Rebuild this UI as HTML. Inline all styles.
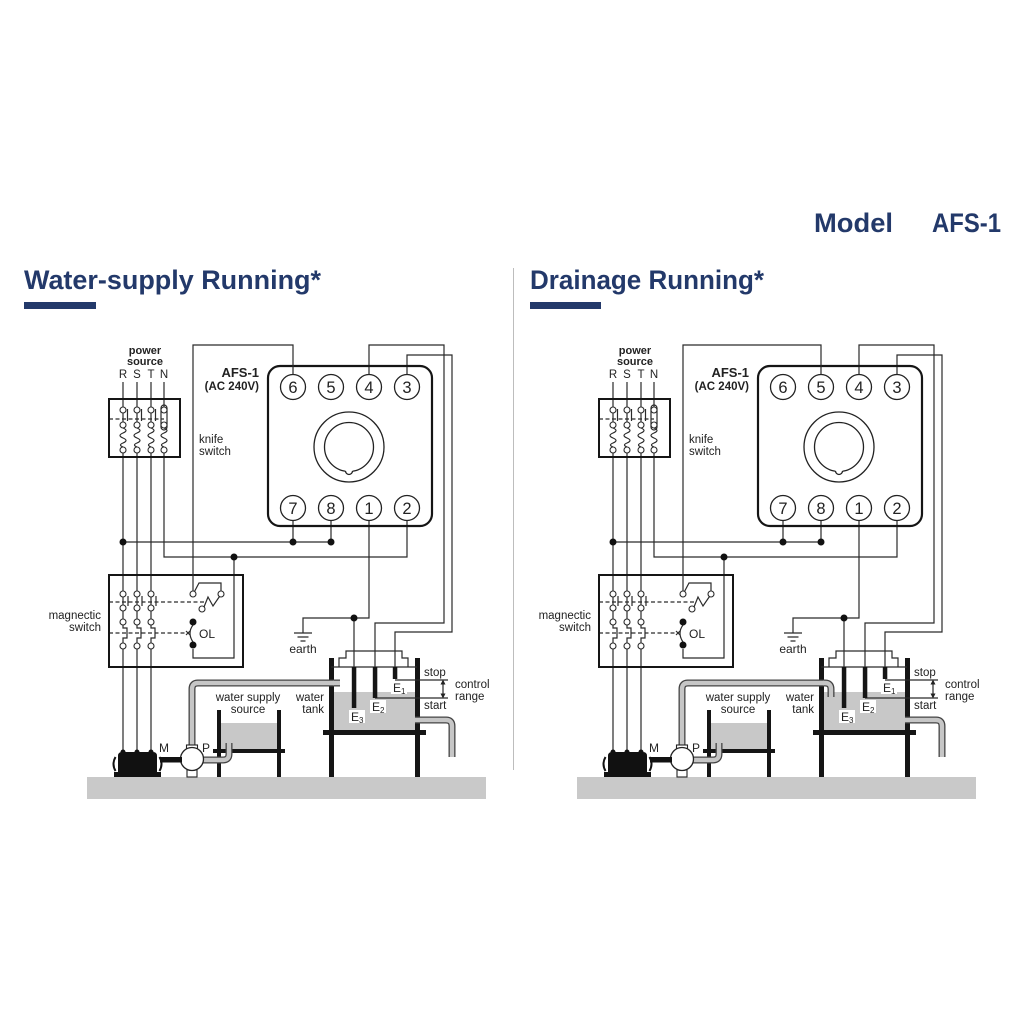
<!DOCTYPE html>
<html><head><meta charset="utf-8"><style>
html,body{margin:0;padding:0;background:#fff;}
svg{display:block;}
text{font-family:"Liberation Sans",Arial,sans-serif;fill:#222;}
.h{font-weight:bold;fill:#23396a;}
</style></head><body>
<svg width="1024" height="1024" viewBox="0 0 1024 1024" xmlns="http://www.w3.org/2000/svg">
<defs>
<g id="base">
 <rect x="87" y="777" width="399" height="22" fill="#c9c9c9"/>
 <rect x="334" y="692" width="81" height="38" fill="#c8c8c8"/>
 <rect x="221" y="723" width="56" height="26" fill="#c8c8c8"/>
 <g fill="#151515">
  <rect x="329" y="658" width="5" height="119"/>
  <rect x="415" y="658" width="5" height="119"/>
  <rect x="323" y="730" width="103" height="5"/>
  <rect x="217" y="710" width="4" height="67"/>
  <rect x="277" y="710" width="4" height="67"/>
  <rect x="213" y="749" width="72" height="4"/>
 </g>
 <g fill="none" stroke="#2a2a2a" stroke-width="1.2">
  <path d="M123 382V407M123 413V422M123 453V591M123 597V605M123 611V619M123 625V628H127V638H123V643M123 649V753"/>
  <path d="M137 382V407M137 413V422M137 453V591M137 597V605M137 611V619M137 625V628H141V638H137V643M137 649V753"/>
  <path d="M151 382V407M151 413V422M151 453V591M151 597V605M151 611V619M151 625V628H155V638H151V643M151 649V753"/>
  <path d="M164 382V407M164 453V557H407V520.5"/>
  <path d="M123 428q6 2.5 0 5q-6 2.5 0 5q6 2.5 0 5q-5 2 0 4M137 428q6 2.5 0 5q-6 2.5 0 5q6 2.5 0 5q-5 2 0 4M151 428q6 2.5 0 5q-6 2.5 0 5q6 2.5 0 5q-5 2 0 4M164 428q6 2.5 0 5q-6 2.5 0 5q6 2.5 0 5q-5 2 0 4"/>
  <path d="M127.5 409V421M141.5 409V421M155.5 409V421"/>
  <rect x="161" y="405" width="6" height="25" rx="3"/>
  <path d="M109 419H164" stroke-dasharray="4 2.5"/>
  <path d="M128 596V606M142 596V606M156 596V606"/>
  <path d="M109 602H206M109 633H187" stroke-dasharray="4 2.5"/>
  <path d="M194.5 591.5L199 583H221V591"/>
  <path d="M204 607L208 597L213 606L219.5 596.5"/>
  <path d="M193 625Q187 633 193 642"/>
  <path d="M186 631L190 635M190 631L186 635"/>
  <path d="M193 649V658H234V557"/>
  <path d="M369 374.5V345H444V623H375V667"/>
  <path d="M407 374.5V355H452V632H395V667"/>
  <path d="M293 520.5V542M331 520.5V542M123 542H331"/>
  <path d="M369 520.5V618H303V633"/>
  <path d="M354 618V667"/>
  <path d="M294 633H312M297.5 637H308.5M300.5 641H305.5"/>
  <path d="M331 667H417M339 667V658H346V651H402V658H408V667"/>
  <path d="M395 680H448M375 698H448M443 683V695"/>
 </g>
 <path d="M440.5 684.5L443 679.5L445.5 684.5ZM440.5 693.5L443 698.5L445.5 693.5Z" fill="#222"/>
 <g fill="#151515">
  <rect x="351.8" y="667" width="4.5" height="41"/>
  <rect x="372.8" y="667" width="4.5" height="31"/>
  <rect x="392.8" y="667" width="4.5" height="12"/>
 </g>
 <g fill="#fff">
  <rect x="391" y="681" width="16" height="13"/>
  <rect x="370" y="700" width="16" height="13"/>
  <rect x="349" y="710" width="16" height="13"/>
 </g>
 <g fill="none" stroke="#151515">
  <rect x="109" y="399" width="71" height="58" stroke-width="2"/>
  <rect x="109" y="575" width="134" height="92" stroke-width="2"/>
  <rect x="268" y="366" width="164" height="160" rx="12" stroke-width="2.2"/>
 </g>
 <g fill="#fff" stroke="#2a2a2a" stroke-width="1.1">
  <circle cx="123" cy="410" r="3"/><circle cx="137" cy="410" r="3"/><circle cx="151" cy="410" r="3"/><circle cx="164" cy="410" r="3"/>
  <circle cx="123" cy="425" r="3"/><circle cx="137" cy="425" r="3"/><circle cx="151" cy="425" r="3"/><circle cx="164" cy="425" r="3"/>
  <circle cx="123" cy="450" r="3"/><circle cx="137" cy="450" r="3"/><circle cx="151" cy="450" r="3"/><circle cx="164" cy="450" r="3"/>
  <circle cx="123" cy="594" r="3"/><circle cx="137" cy="594" r="3"/><circle cx="151" cy="594" r="3"/>
  <circle cx="123" cy="608" r="3"/><circle cx="137" cy="608" r="3"/><circle cx="151" cy="608" r="3"/>
  <circle cx="123" cy="622" r="3"/><circle cx="137" cy="622" r="3"/><circle cx="151" cy="622" r="3"/>
  <circle cx="123" cy="646" r="3"/><circle cx="137" cy="646" r="3"/><circle cx="151" cy="646" r="3"/>
  <circle cx="193" cy="594" r="3"/><circle cx="221" cy="594" r="3"/><circle cx="202" cy="609" r="3"/>
 </g>
 <g fill="#fff" stroke="#222" stroke-width="1.3">
  <circle cx="293" cy="387" r="12.5"/><circle cx="331" cy="387" r="12.5"/><circle cx="369" cy="387" r="12.5"/><circle cx="407" cy="387" r="12.5"/>
  <circle cx="293" cy="508" r="12.5"/><circle cx="331" cy="508" r="12.5"/><circle cx="369" cy="508" r="12.5"/><circle cx="407" cy="508" r="12.5"/>
  <circle cx="349" cy="447" r="35"/>
  <circle cx="349" cy="447" r="24.5"/>
 </g>
 <rect x="345.5" y="469" width="7" height="4" fill="#fff"/>
 <path d="M345.5 471A3.5 3.5 0 0 0 352.5 471" fill="none" stroke="#222" stroke-width="1.3"/>
 <g fill="#111">
  <circle cx="123" cy="542" r="3.5"/><circle cx="293" cy="542" r="3.5"/><circle cx="331" cy="542" r="3.5"/>
  <circle cx="234" cy="557" r="3.5"/><circle cx="354" cy="618" r="3.5"/>
  <circle cx="193" cy="622" r="3.5"/><circle cx="193" cy="645" r="3.5"/>
 </g>
 <g fill="none">
  <path d="M192 748V689Q192 683 198 683H335M203 760H223Q229 760 229 754V743M415 720H446Q452 720 452 726V757" stroke="#444" stroke-width="7"/>
  <path d="M192 748V689Q192 683 198 683H335M203 760H223Q229 760 229 754V743M415 720H446Q452 720 452 726V757" stroke="#c6c6c6" stroke-width="4.4"/>
 </g>
 <rect x="186.5" y="745" width="11" height="4" fill="#fff" stroke="#222" stroke-width="1.1"/>
 <rect x="187" y="767" width="10" height="10" fill="#fff" stroke="#222" stroke-width="1.1"/>
 <circle cx="192" cy="759" r="11.5" fill="#fff" stroke="#222" stroke-width="1.3"/>
 <path d="M118 756Q118 752 122 752H153Q157 752 157 756V772H161V777H114V772H118Z" fill="#111"/>
 <path d="M115.5 757Q111.5 764 115.5 771M159.5 757Q163.5 764 159.5 771" stroke="#111" stroke-width="2" fill="none"/>
 <g fill="#111"><circle cx="123" cy="752" r="2.5"/><circle cx="137" cy="752" r="2.5"/><circle cx="151" cy="752" r="2.5"/></g>
 <rect x="160" y="757" width="22" height="5.5" fill="#111"/>
</g>
</defs>

<text class="h" x="814" y="232" font-size="27" textLength="79" lengthAdjust="spacingAndGlyphs">Model</text>
<text class="h" x="932" y="232" font-size="27" textLength="69" lengthAdjust="spacingAndGlyphs">AFS-1</text>
<text class="h" x="24" y="289" font-size="27" textLength="297" lengthAdjust="spacingAndGlyphs">Water-supply Running*</text>
<text class="h" x="530" y="289" font-size="27" textLength="234" lengthAdjust="spacingAndGlyphs">Drainage Running*</text>
<rect x="24" y="302" width="72" height="7" fill="#23396a"/>
<rect x="530" y="302" width="71" height="7" fill="#23396a"/>
<line x1="513.5" y1="268" x2="513.5" y2="770" stroke="#bdbdbd" stroke-width="1"/>

<use href="#base"/>
<use href="#base" transform="translate(490,0)"/>

<g fill="none" stroke="#2a2a2a" stroke-width="1.2"><path d="M293 374.5V345H193V591"/></g>
<g fill="none"><path d="M334 683H340" stroke="#444" stroke-width="7"/><path d="M333 683H340" stroke="#c6c6c6" stroke-width="4.4"/></g>

<g transform="translate(490,0)">
 <g fill="none" stroke="#2a2a2a" stroke-width="1.2"><path d="M331 374.5V345H193V591"/></g>
 <g fill="none"><path d="M334 683H335Q341 683 341 689V697" stroke="#444" stroke-width="7"/><path d="M333 683H335Q341 683 341 689V697" stroke="#c6c6c6" stroke-width="4.4"/></g>
</g>

<g>
 <text x="145" y="354" font-size="11" font-weight="bold" text-anchor="middle">power</text>
 <text x="145" y="365" font-size="11" font-weight="bold" text-anchor="middle">source</text>
 <text y="378" font-size="11.5" text-anchor="middle"><tspan x="123">R</tspan><tspan x="137">S</tspan><tspan x="151">T</tspan><tspan x="164">N</tspan></text>
 <text x="259" y="377" font-size="13" font-weight="bold" text-anchor="end">AFS-1</text>
 <text x="259" y="390" font-size="11.5" font-weight="bold" text-anchor="end">(AC 240V)</text>
 <text x="199" y="443" font-size="11.5">knife</text>
 <text x="199" y="455" font-size="11.5">switch</text>
 <text x="101" y="619" font-size="11.5" text-anchor="end">magnectic</text>
 <text x="101" y="631" font-size="11.5" text-anchor="end">switch</text>
 <text x="199" y="638" font-size="12">OL</text>
 <g font-size="16.5" text-anchor="middle">
  <text x="293" y="393">6</text><text x="331" y="393">5</text><text x="369" y="393">4</text><text x="407" y="393">3</text>
  <text x="293" y="514">7</text><text x="331" y="514">8</text><text x="369" y="514">1</text><text x="407" y="514">2</text>
 </g>
 <text x="303" y="653" font-size="12" text-anchor="middle">earth</text>
 <text x="424" y="676" font-size="11.5">stop</text>
 <text x="424" y="709" font-size="11.5">start</text>
 <text x="455" y="688" font-size="11.5">control</text>
 <text x="455" y="700" font-size="11.5">range</text>
 <text x="324" y="701" font-size="11.5" text-anchor="end">water</text>
 <text x="324" y="713" font-size="11.5" text-anchor="end">tank</text>
 <text x="248" y="701" font-size="11.5" text-anchor="middle">water supply</text>
 <text x="248" y="713" font-size="11.5" text-anchor="middle">source</text>
 <text x="159" y="752" font-size="12">M</text>
 <text x="202" y="752" font-size="12">P</text>
 <text x="393" y="692" font-size="12">E<tspan font-size="8" dy="2">1</tspan></text>
 <text x="372" y="711" font-size="12">E<tspan font-size="8" dy="2">2</tspan></text>
 <text x="351" y="721" font-size="12">E<tspan font-size="8" dy="2">3</tspan></text>
</g>

<g transform="translate(490,0)">
 <text x="145" y="354" font-size="11" font-weight="bold" text-anchor="middle">power</text>
 <text x="145" y="365" font-size="11" font-weight="bold" text-anchor="middle">source</text>
 <text y="378" font-size="11.5" text-anchor="middle"><tspan x="123">R</tspan><tspan x="137">S</tspan><tspan x="151">T</tspan><tspan x="164">N</tspan></text>
 <text x="259" y="377" font-size="13" font-weight="bold" text-anchor="end">AFS-1</text>
 <text x="259" y="390" font-size="11.5" font-weight="bold" text-anchor="end">(AC 240V)</text>
 <text x="199" y="443" font-size="11.5">knife</text>
 <text x="199" y="455" font-size="11.5">switch</text>
 <text x="101" y="619" font-size="11.5" text-anchor="end">magnectic</text>
 <text x="101" y="631" font-size="11.5" text-anchor="end">switch</text>
 <text x="199" y="638" font-size="12">OL</text>
 <g font-size="16.5" text-anchor="middle">
  <text x="293" y="393">6</text><text x="331" y="393">5</text><text x="369" y="393">4</text><text x="407" y="393">3</text>
  <text x="293" y="514">7</text><text x="331" y="514">8</text><text x="369" y="514">1</text><text x="407" y="514">2</text>
 </g>
 <text x="303" y="653" font-size="12" text-anchor="middle">earth</text>
 <text x="424" y="676" font-size="11.5">stop</text>
 <text x="424" y="709" font-size="11.5">start</text>
 <text x="455" y="688" font-size="11.5">control</text>
 <text x="455" y="700" font-size="11.5">range</text>
 <text x="324" y="701" font-size="11.5" text-anchor="end">water</text>
 <text x="324" y="713" font-size="11.5" text-anchor="end">tank</text>
 <text x="248" y="701" font-size="11.5" text-anchor="middle">water supply</text>
 <text x="248" y="713" font-size="11.5" text-anchor="middle">source</text>
 <text x="159" y="752" font-size="12">M</text>
 <text x="202" y="752" font-size="12">P</text>
 <text x="393" y="692" font-size="12">E<tspan font-size="8" dy="2">1</tspan></text>
 <text x="372" y="711" font-size="12">E<tspan font-size="8" dy="2">2</tspan></text>
 <text x="351" y="721" font-size="12">E<tspan font-size="8" dy="2">3</tspan></text>
</g>
</svg>
</body></html>
